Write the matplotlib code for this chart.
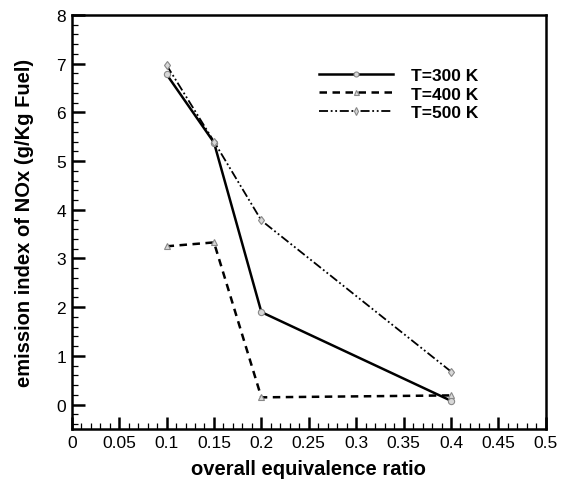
import matplotlib
matplotlib.use("Agg")
import matplotlib.pyplot as plt
from matplotlib.ticker import MultipleLocator, FuncFormatter

plt.rcParams['font.family'] = ['Liberation Sans', 'DejaVu Sans']

phi = [0.1, 0.15, 0.2, 0.4]
nox_300 = [6.78, 5.38, 1.90, 0.08]
nox_400 = [3.25, 3.33, 0.15, 0.19]
nox_500 = [6.97, 5.40, 3.78, 0.68]
labels = ["T=300 K", "T=400 K", "T=500 K"]

fig = plt.figure(figsize=(5.65, 4.81), dpi=100)
ax = fig.add_axes([0.127, 0.106, 0.839, 0.861])

mk = dict(markersize=4.5, markerfacecolor='#d8d8d8', markeredgecolor='#888888', markeredgewidth=0.8)
ax.plot(phi, nox_300, '-', color='black', lw=1.8, marker='o', label=labels[0], **mk)
ax.plot(phi, nox_400, color='black', lw=1.8, linestyle=(0, (3, 2.2)), marker='^', label=labels[1], **mk)
ax.plot(phi, nox_500, color='black', lw=1.3, linestyle=(0, (5, 1.5, 1, 1.5, 1, 1.5)), marker='d', label=labels[2], **mk)

ax.set_xlim(0, 0.5)
ax.set_ylim(-0.5, 8)
ax.xaxis.set_major_locator(MultipleLocator(0.05))
ax.xaxis.set_minor_locator(MultipleLocator(0.01))
ax.yaxis.set_major_locator(MultipleLocator(1))
ax.yaxis.set_minor_locator(MultipleLocator(0.2))
ax.xaxis.set_major_formatter(FuncFormatter(lambda v, p: "0" if abs(v) < 1e-9 else f"{v:.2f}".rstrip('0').rstrip('.')))
ax.tick_params(which='major', direction='in', length=9, width=1.8, labelsize=12.5, pad=4)
ax.tick_params(which='minor', direction='in', length=4.5, width=0.9)
for s in ax.spines.values():
    s.set_linewidth(1.8)

ax.set_xlabel("overall equivalence ratio", fontsize=14.5, fontweight='bold', labelpad=7)
ax.set_ylabel("emission index of NOx (g/Kg Fuel)", fontsize=14.5, fontweight='bold', labelpad=16)

leg = ax.legend(loc='upper right', bbox_to_anchor=(0.89, 0.91), frameon=False,
                prop={'size': 12.5, 'weight': 'bold'},
                handlelength=4.3, labelspacing=0.2, handletextpad=1.0, markerscale=0.8)

fig.savefig("out.png", dpi=100)
